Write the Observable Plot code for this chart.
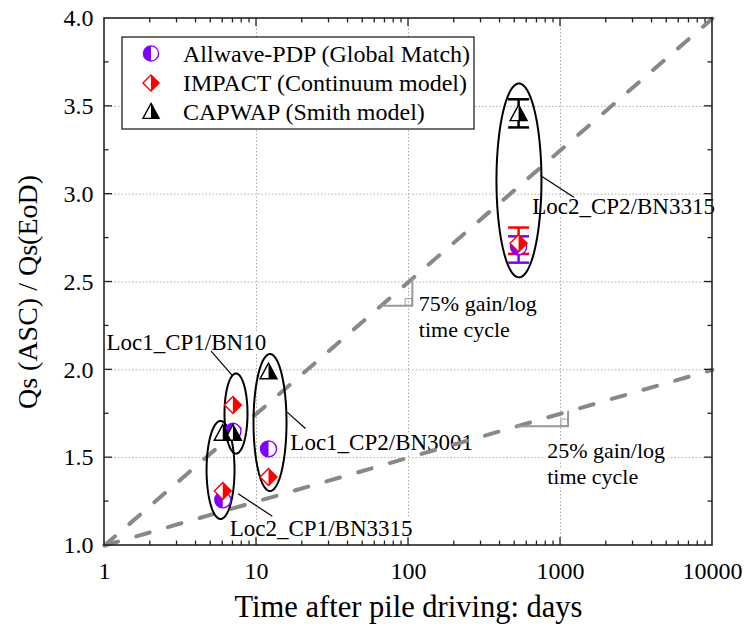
<!DOCTYPE html>
<html>
<head>
<meta charset="utf-8">
<script src="https://cdn.jsdelivr.net/npm/d3@7"></script>
<script src="https://cdn.jsdelivr.net/npm/@observablehq/plot@0.6"></script>
<style>
html,body{margin:0;padding:0;background:#fff;}
#chart svg{display:block;}
</style>
</head>
<body>
<div id="chart"></div>
<script>
// ---------------- data ----------------
const seriesNames = ["Allwave-PDP (Global Match)", "IMPACT (Continuum model)", "CAPWAP (Smith model)"];
const seriesColors = ["#8000ff", "#ff0000", "#000000"];

const groupNames = ["Loc2_CP1/BN3315", "Loc1_CP1/BN10", "Loc1_CP2/BN3001", "Loc2_CP2/BN3315"];
const groupDays = [6, 7, 12, 530];
const allwaveRatio = [1.26, 1.65, 1.55, 2.70];
const impactRatio = [1.31, 1.80, 1.39, 2.72];
const capwapRatio = [1.64, 1.64, 1.99, 3.46];

// error bars (only for the Loc2_CP2/BN3315 group)
const errGroup = 3;
const allwaveErr = [2.61, 2.76];
const impactErr = [2.66, 2.81];
const capwapErr = [3.38, 3.54];

// reference gain lines
const gainLineDays = [1, 10000];
const gain75Ratio = [1.0, 4.0];
const gain25Ratio = [1.0, 2.0];
const gainLabels = ["75% gain/log\ntime cycle", "25% gain/log\ntime cycle"];
const gainLabelDays = [117, 817];
const gainLabelRatio = [2.309, 1.47];
const bracketStartDays = [66, 520];
const bracketEndDays = [106, 1122];
const bracketLowRatio = [2.365, 1.679];
const bracketHighRatio = [2.52, 1.7625];

// group ellipses (centre, half-width in decades, half-height in ratio)
const ellipseDays = [5.8, 7.33, 12.27, 533];
const ellipseRatio = [1.43, 1.751, 1.70, 3.078];
const ellipseHalfDecades = [0.092, 0.0757, 0.1086, 0.148];
const ellipseHalfRatio = [0.279, 0.228, 0.390, 0.552];

// group labels and leader lines
const groupLabelDays = [6.67, 1.03, 16.7, 651];
const groupLabelRatio = [1.097, 2.156, 1.586, 2.93];
const leaderFromDays = [7.58, 5.03, 15.9, 738];
const leaderFromRatio = [1.294, 2.106, 1.759, 3.106];
const leaderToDays = [12.7, 6.92, 21.0, 1224];
const leaderToRatio = [1.167, 1.968, 1.666, 2.983];

// axes
const xDomain = [1, 10000];
const yDomain = [1, 4];
const xTickValues = [1, 10, 100, 1000, 10000];
const yTickValues = [1.0, 1.5, 2.0, 2.5, 3.0, 3.5, 4.0];
const yMinorTickValues = [1.25, 1.75, 2.25, 2.75, 3.25, 3.75];
const xTitle = "Time after pile driving: days";
const yTitle = "Qs (ASC) / Qs(EoD)";

// ---------------- symbols ----------------
const rad = (size) => Math.sqrt(size / Math.PI);
const circleLeftHalf = {draw(c, s) { const r = rad(s); c.moveTo(0, -r); c.arc(0, 0, r, -Math.PI / 2, Math.PI / 2, true); c.closePath(); }};
const diamondFull = {draw(c, s) { const r = rad(s); c.moveTo(0, -r); c.lineTo(r, 0); c.lineTo(0, r); c.lineTo(-r, 0); c.closePath(); }};
const diamondRightHalf = {draw(c, s) { const r = rad(s); c.moveTo(0, -r); c.lineTo(r, 0); c.lineTo(0, r); c.closePath(); }};
const triFull = {draw(c, s) { const r = rad(s); c.moveTo(0, -r); c.lineTo(r, 0.85 * r); c.lineTo(-r, 0.85 * r); c.closePath(); }};
const triRightHalf = {draw(c, s) { const r = rad(s); c.moveTo(0, -r); c.lineTo(r, 0.85 * r); c.lineTo(0, 0.85 * r); c.closePath(); }};
const hline = {draw(c, s) { const r = rad(s); c.moveTo(-r, 0); c.lineTo(r, 0); }};

const fullSymbols = ["circle", diamondFull, triFull];
const halfSymbols = [circleLeftHalf, diamondRightHalf, triRightHalf];
const symbolR = [8, 8.5, 8.5];

// ---------------- tables ----------------
const ratios = [allwaveRatio, impactRatio, capwapRatio];
const errs = [allwaveErr, impactErr, capwapErr];
const pointTables = ratios.map((arr) => arr.map((v, i) => ({days: groupDays[i], ratio: v, group: groupNames[i]})));
const errTables = errs.map((e) => [{days: groupDays[errGroup], lo: e[0], hi: e[1]}]);

const gainLines = [
  ...gainLineDays.map((d, i) => ({days: d, ratio: gain75Ratio[i], k: "75"})),
  ...gainLineDays.map((d, i) => ({days: d, ratio: gain25Ratio[i], k: "25"}))
];
const brackets = bracketStartDays.flatMap((d, i) => [
  {days: d, ratio: bracketLowRatio[i], k: i},
  {days: bracketEndDays[i], ratio: bracketLowRatio[i], k: i},
  {days: bracketEndDays[i], ratio: bracketHighRatio[i], k: i}
]);
const bracketCorners = bracketEndDays.map((d, i) => ({days: d, ratio: bracketLowRatio[i]}));
const gainLabelTable = gainLabels.map((t, i) => ({text: t, days: gainLabelDays[i], ratio: gainLabelRatio[i]}));

const ellipsePts = [];
groupNames.forEach((g, i) => {
  const n = 90;
  for (let k = 0; k < n; k++) {
    const t = 2 * Math.PI * k / n;
    ellipsePts.push({
      group: g + i,
      days: Math.pow(10, Math.log10(ellipseDays[i]) + ellipseHalfDecades[i] * Math.cos(t)),
      ratio: ellipseRatio[i] + ellipseHalfRatio[i] * Math.sin(t)
    });
  }
});
const groupLabelTable = groupNames.map((g, i) => ({text: g, days: groupLabelDays[i], ratio: groupLabelRatio[i]}));
const leaderTable = groupNames.map((g, i) => ({x1: leaderFromDays[i], y1: leaderFromRatio[i], x2: leaderToDays[i], y2: leaderToRatio[i]}));

// ---------------- custom render marks ----------------
function frameAndTicks(index, scales, values, dims) {
  const x = scales.x, y = scales.y;
  const L = dims.marginLeft, R = dims.width - dims.marginRight, T = dims.marginTop, B = dims.height - dims.marginBottom;
  const g = d3.create("svg:g").attr("fill", "none").attr("stroke", "#222").attr("stroke-width", 1.3);
  const xAll = d3.scaleLog().domain(xDomain).ticks();
  for (const v of xAll) {
    const px = x(v);
    const major = xTickValues.includes(v);
    const len = major ? 8 : 4.5;
    if (px <= L + 0.5 || px >= R - 0.5) continue;
    g.append("line").attr("x1", px).attr("x2", px).attr("y1", B).attr("y2", B - len);
    g.append("line").attr("x1", px).attr("x2", px).attr("y1", T).attr("y2", T + len);
  }
  const yAll = [...yTickValues.map(v => [v, true]), ...yMinorTickValues.map(v => [v, false])];
  for (const [v, major] of yAll) {
    const py = y(v);
    const len = major ? 8 : 4.5;
    if (py <= T + 0.5 || py >= B - 0.5) continue;
    g.append("line").attr("x1", L).attr("x2", L + len).attr("y1", py).attr("y2", py);
    g.append("line").attr("x1", R).attr("x2", R - len).attr("y1", py).attr("y2", py);
  }
  g.append("rect").attr("x", L).attr("y", T).attr("width", R - L).attr("height", B - T).attr("stroke-width", 1.6);
  return g.node();
}

function legend(index, scales, values, dims) {
  const g = d3.create("svg:g");
  const bx = 122, by = 37, bw = 352, bh = 92;
  g.append("rect").attr("x", bx).attr("y", by).attr("width", bw).attr("height", bh)
    .attr("fill", "white").attr("stroke", "#222").attr("stroke-width", 1.3);
  const rows = [53.5, 83, 111.5];
  seriesNames.forEach((name, i) => {
    const r = symbolR[i] * 0.95;
    const size = Math.PI * r * r;
    const full = typeof fullSymbols[i] === "string" ? d3.symbolCircle : fullSymbols[i];
    g.append("path").attr("d", d3.symbol(full, size)())
      .attr("transform", `translate(151,${rows[i]})`)
      .attr("fill", "white").attr("stroke", seriesColors[i]).attr("stroke-width", 1.4);
    g.append("path").attr("d", d3.symbol(halfSymbols[i], size)())
      .attr("transform", `translate(151,${rows[i]})`)
      .attr("fill", seriesColors[i]);
    g.append("text").attr("x", 183).attr("y", rows[i]).attr("dy", "0.35em")
      .attr("text-anchor", "start")
      .attr("font-size", 24).attr("fill", "black").text(name);
  });
  return g.node();
}

// ---------------- marks ----------------
const halo = {stroke: "white", strokeWidth: 7, paintOrder: "stroke", fill: "black"};

const marks = [
  Plot.ruleX(xTickValues.slice(1, -1), {stroke: "#aaa", strokeWidth: 1, strokeDasharray: "1.5,2"}),
  Plot.ruleY(yTickValues.slice(1, -1), {stroke: "#aaa", strokeWidth: 1, strokeDasharray: "1.5,2"}),
  Plot.text(groupLabelTable, {x: "days", y: "ratio", text: "text", textAnchor: "start", lineAnchor: "middle", fontSize: 23, ...halo}),
  Plot.text(gainLabelTable, {x: "days", y: "ratio", text: "text", textAnchor: "start", lineAnchor: "middle", fontSize: 22, lineHeight: 1.18, ...halo}),
  Plot.line(gainLines, {x: "days", y: "ratio", z: "k", stroke: "#888", strokeWidth: 4, strokeDasharray: "14,19"}),
  Plot.line(brackets, {x: "days", y: "ratio", z: "k", stroke: "#999", strokeWidth: 2}),
  Plot.dot(bracketCorners, {x: "days", y: "ratio", symbol: "square", r: 3.8, dx: -3.8, dy: -3.8, fill: "none", stroke: "#999", strokeWidth: 1}),
  Plot.line(ellipsePts, {x: "days", y: "ratio", z: "group", stroke: "black", strokeWidth: 2, curve: "linear-closed"}),
  Plot.link(leaderTable, {x1: "x1", y1: "y1", x2: "x2", y2: "y2", stroke: "black", strokeWidth: 1.2})
];

// error bars: IMPACT (red) first, then Allwave (purple), then CAPWAP
for (const s of [1, 0, 2]) {
  marks.push(
    Plot.ruleX(errTables[s], {x: "days", y1: "lo", y2: "hi", stroke: seriesColors[s], strokeWidth: 2.5}),
    Plot.dot(errTables[s], {x: "days", y: "lo", symbol: hline, r: 10.5, fill: "none", stroke: seriesColors[s], strokeWidth: 2.5}),
    Plot.dot(errTables[s], {x: "days", y: "hi", symbol: hline, r: 10.5, fill: "none", stroke: seriesColors[s], strokeWidth: 2.5})
  );
}
// points: Allwave, IMPACT, CAPWAP
for (const s of [0, 1, 2]) {
  marks.push(
    Plot.dot(pointTables[s], {x: "days", y: "ratio", symbol: fullSymbols[s], r: symbolR[s], fill: "white", stroke: seriesColors[s], strokeWidth: 1.4}),
    Plot.dot(pointTables[s], {x: "days", y: "ratio", symbol: halfSymbols[s], r: symbolR[s], fill: seriesColors[s], stroke: "none"})
  );
}

marks.push(
  frameAndTicks,
  Plot.axisX({ticks: xTickValues, tickFormat: d3.format("d"), tickSize: 0, tickPadding: 16, fontSize: 24, label: null}),
  Plot.axisY({ticks: yTickValues, tickFormat: d3.format(".1f"), tickSize: 0, tickPadding: 11, fontSize: 24, label: null}),
  Plot.text([xTitle], {frameAnchor: "bottom", dy: 62, textAnchor: "middle", lineAnchor: "middle", fontSize: 30.5, fill: "black"}),
  Plot.text([yTitle], {frameAnchor: "left", rotate: -90, dx: -76, dy: 10, textAnchor: "middle", lineAnchor: "middle", fontSize: 28, fill: "black"}),
  legend
);

const chart = Plot.plot({
  width: 749,
  height: 637,
  marginLeft: 104,
  marginRight: 37,
  marginTop: 18,
  marginBottom: 92,
  x: {type: "log", domain: xDomain},
  y: {type: "linear", domain: yDomain},
  style: {fontFamily: "'Liberation Serif', 'Times New Roman', serif", background: "white", color: "black", overflow: "visible"},
  marks
});
document.getElementById("chart").append(chart);
</script>
</body>
</html>
